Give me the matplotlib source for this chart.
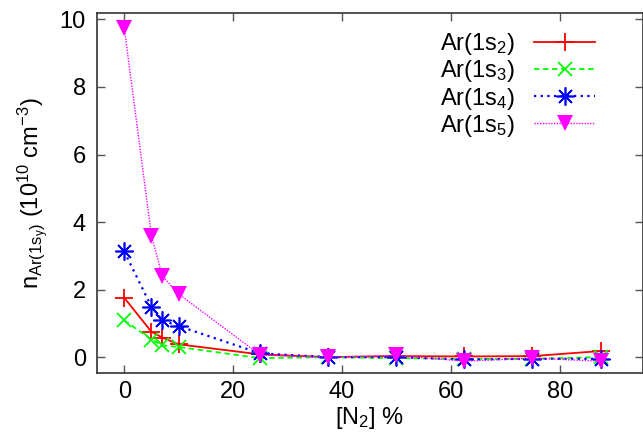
import matplotlib
matplotlib.use("Agg")
import matplotlib.pyplot as plt

plt.rcParams['font.family'] = ['Liberation Sans', 'DejaVu Sans']
plt.rcParams['mathtext.fontset'] = 'custom'
plt.rcParams['mathtext.rm'] = 'Liberation Sans'
plt.rcParams['mathtext.it'] = 'Liberation Sans:italic'

n2_percent = [0, 5, 7, 10, 25, 37.5, 50, 62.5, 75, 87.5]
ar_1s2 = [1.76, 0.75, 0.58, 0.38, 0.08, 0.0, 0.03, 0.02, 0.03, 0.18]
ar_1s3 = [1.09, 0.52, 0.35, 0.30, -0.03, 0.0, -0.03, -0.05, -0.05, 0.0]
ar_1s4 = [3.13, 1.49, 1.09, 0.92, 0.11, 0.0, 0.0, -0.07, -0.05, -0.05]
ar_1s5 = [9.76, 3.60, 2.40, 1.87, 0.06, 0.0, 0.05, -0.12, -0.03, -0.12]
labels = [r'Ar(1s$_2$)', r'Ar(1s$_3$)', r'Ar(1s$_4$)', r'Ar(1s$_5$)']

FS = 17

fig = plt.figure(figsize=(6.43, 4.41), dpi=100)
ax = fig.add_axes([97/643, 1 - 373/441, 546/643, (373 - 12.7)/441])

ax.plot(n2_percent, ar_1s2, color='#ff0000', ls='-', lw=1.3, marker='+', ms=13, mew=1.3, label=labels[0])
ax.plot(n2_percent, ar_1s3, color='#00ff00', ls=(0, (3, 2)), lw=1.3, marker='x', ms=10, mew=1.3, label=labels[1])
ax.plot(n2_percent, ar_1s4, color='#0000ff', ls=(0, (1, 2)), lw=1.6, marker=(8, 2, 0), ms=13, mew=1.2, label=labels[2])
ax.plot(n2_percent, ar_1s5, color='#ff00ff', ls=(0, (1, 1)), lw=1.0, marker='v', ms=11, mew=0, label=labels[3])

ax.set_xlim(-5, 95.3)
ax.set_ylim(-0.47, 10.2)
ax.set_xticks([0, 20, 40, 60, 80])
ax.set_yticks([0, 2, 4, 6, 8, 10])
ax.tick_params(direction='in', top=True, right=True, labelsize=FS, length=6, width=1, color='#555555', pad=8)
ax.tick_params(axis='x', pad=6)
for s in ax.spines.values():
    s.set_color('#333333')
    s.set_linewidth(1.2)

ax.set_xlabel(r'[N$_2$] %', fontsize=FS, labelpad=1)
ax.set_ylabel(r'n$_{\mathrm{Ar(1s_y)}}$ (10$^{10}$ cm$^{-3}$)', fontsize=FS, labelpad=6)

ax.legend(loc='upper right', bbox_to_anchor=(0.93, 0.975), frameon=False, markerfirst=False,
          fontsize=FS, handlelength=2.6, handletextpad=0.8, labelspacing=0.05, borderaxespad=0)

fig.savefig('out.png', dpi=100)
